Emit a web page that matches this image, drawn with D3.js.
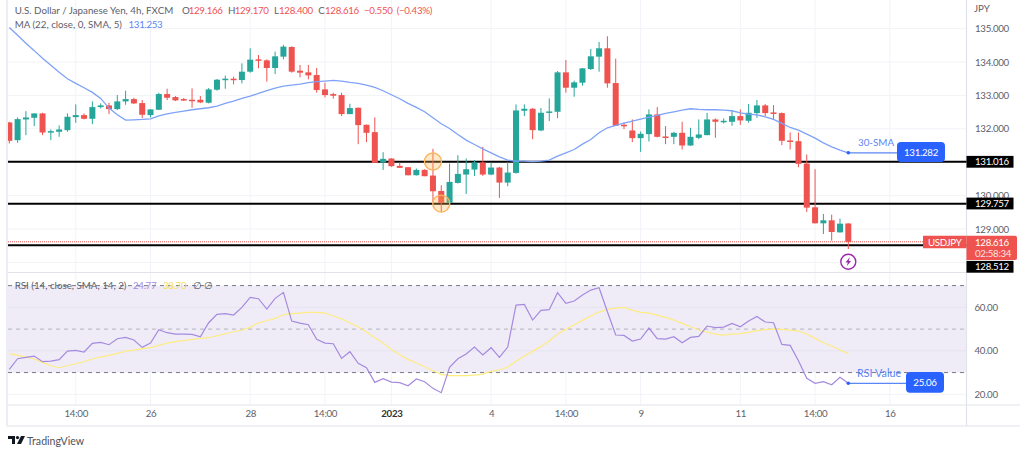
<!DOCTYPE html>
<html lang="en">
<head>
<meta charset="UTF-8">
<title>USD/JPY 4h</title>
<script src="https://d3js.org/d3.v7.min.js"></script>
<style>
    html, body { margin: 0; padding: 0; background: #fff; overflow: hidden; }
    svg text { font-family: Lato, Roboto, sans-serif; }
    .axis path, .axis line { display: none; }
</style>
</head>
<body>
<svg id="chart" width="1024" height="455"></svg>
<script>
// candles (4h bars)
const opens = [132.19,131.66,132.28,132.33,132.46,131.89,131.91,131.96,132.35,132.41,132.30,132.65,132.70,132.59,132.82,132.89,132.77,132.41,132.57,133.04,132.95,132.89,132.87,132.87,132.78,133.17,133.46,133.50,133.46,133.71,134.08,134.05,133.82,134.16,134.45,133.74,133.69,133.61,133.18,133.04,133.01,132.44,132.63,132.12,131.90,130.99,131.11,130.89,130.85,130.61,130.77,130.60,130.14,129.78,130.38,130.63,130.78,130.99,130.63,130.84,130.39,130.68,132.54,132.60,131.95,132.48,132.51,133.69,133.23,133.38,133.79,134.16,134.41,133.37,132.12,131.95,131.72,131.84,132.43,131.77,131.76,131.88,131.50,131.73,131.81,132.28,132.21,132.21,132.38,132.24,132.47,132.70,132.49,132.47,131.65,131.63,130.96,129.65,129.17,129.26,128.90,129.166];
const highs = [132.21,132.34,132.53,132.46,132.48,131.98,132.10,132.46,132.73,132.46,132.82,132.76,132.78,133.01,133.14,132.93,132.86,132.59,133.08,133.20,132.98,132.92,133.21,132.98,133.22,133.49,133.59,133.56,133.96,134.41,134.21,134.08,134.31,134.51,134.47,133.91,133.91,133.82,133.38,133.08,133.08,132.75,132.64,132.13,132.34,131.30,131.12,130.99,130.86,130.81,130.79,131.40,130.31,130.96,131.21,131.11,131.06,131.46,130.99,130.86,131.01,132.73,132.73,132.62,132.62,132.91,133.73,134.06,133.44,133.82,134.39,134.60,134.77,134.10,132.19,132.28,131.92,132.58,132.65,132.08,131.91,132.21,132.03,132.28,132.48,132.31,132.31,132.54,132.58,132.74,132.86,132.74,132.71,132.49,131.89,131.89,131.23,130.79,129.45,129.43,129.31,129.17];
const lows = [131.56,131.58,131.81,132.08,131.81,131.66,131.76,131.91,132.18,132.28,132.14,132.61,132.44,132.56,132.72,132.74,132.32,132.34,132.56,132.86,132.83,132.83,132.63,132.77,132.76,133.14,133.20,133.33,133.36,133.68,133.81,133.41,133.64,134.08,133.68,133.54,133.48,133.08,132.94,132.90,132.38,132.44,131.54,131.60,130.98,130.77,130.86,130.83,130.60,130.60,130.58,129.81,129.51,129.71,130.36,130.05,130.59,130.59,130.61,129.93,130.28,130.66,132.38,131.69,131.93,132.23,132.32,133.08,132.96,133.29,133.76,133.71,133.23,132.08,131.99,131.60,131.31,131.62,131.74,131.54,131.54,131.38,131.49,131.69,131.81,131.73,132.16,132.09,132.12,132.18,132.33,132.38,132.28,131.51,131.38,130.85,129.51,129.17,128.85,128.65,128.89,128.40];
const closes = [131.64,132.29,132.34,132.46,131.89,131.93,131.98,132.36,132.41,132.30,132.65,132.70,132.59,132.82,132.89,132.76,132.42,132.58,133.04,132.93,132.85,132.85,132.85,132.79,133.18,133.47,133.50,133.46,133.71,134.07,134.05,133.82,134.17,134.46,133.71,133.68,133.60,133.16,133.01,132.99,132.44,132.62,132.11,131.88,130.98,131.10,130.88,130.83,130.61,130.77,130.58,130.13,129.78,130.41,130.65,130.79,130.99,130.63,130.84,130.39,130.69,132.55,132.60,131.96,132.48,132.52,133.69,133.23,133.39,133.81,134.17,134.41,133.36,132.09,132.09,131.72,131.85,132.43,131.76,131.74,131.88,131.50,131.76,131.83,132.28,132.21,132.24,132.38,132.25,132.48,132.70,132.47,132.46,131.64,131.63,130.95,129.64,129.17,129.26,128.91,129.16,128.616];
const maValues = [135.03,134.80,134.56,134.34,134.11,133.90,133.69,133.50,133.36,133.23,133.09,132.91,132.62,132.42,132.26,132.27,132.28,132.30,132.39,132.45,132.49,132.53,132.57,132.60,132.63,132.68,132.76,132.83,132.91,132.98,133.06,133.14,133.22,133.28,133.31,133.34,133.38,133.41,133.43,133.45,133.43,133.39,133.36,133.31,133.24,133.14,133.02,132.90,132.76,132.64,132.51,132.33,132.15,132.01,131.83,131.66,131.53,131.40,131.28,131.16,131.06,131.03,131.03,131.02,131.03,131.06,131.18,131.28,131.38,131.54,131.68,131.88,132.03,132.10,132.17,132.23,132.29,132.35,132.40,132.46,132.51,132.56,132.60,132.58,132.57,132.57,132.56,132.54,132.48,132.44,132.42,132.36,132.28,132.16,132.04,131.96,131.84,131.72,131.58,131.46,131.36,131.282];
const rsiValues = [31.47,36.37,36.99,37.60,34.99,35.30,35.91,39.90,40.20,39.44,43.42,43.88,42.81,45.57,46.18,44.96,41.58,43.58,49.71,48.33,47.72,47.72,47.56,46.49,52.93,56.76,57.07,56.45,59.98,64.58,63.97,59.21,64.12,66.88,53.69,52.77,52.01,45.26,43.58,43.27,36.52,39.59,34.23,32.23,25.49,27.17,25.64,25.33,23.95,27.02,25.79,22.73,20.74,32.39,36.37,38.52,41.74,38.06,41.43,36.99,41.74,61.05,61.36,54.16,58.60,58.91,66.73,61.82,62.89,65.65,67.95,69.02,57.99,47.26,47.10,44.50,45.42,50.48,45.57,45.42,46.49,43.73,46.18,46.64,51.40,50.63,50.94,52.62,51.09,53.69,55.84,53.24,52.93,42.96,42.50,35.45,27.33,25.03,25.79,24.42,27.79,25.06];
const rsiSignal = [38.67,37.91,37.14,36.22,34.69,33.15,32.23,33.15,34.07,34.99,36.22,37.14,37.91,38.83,39.90,40.36,40.97,41.43,42.50,43.58,44.19,44.65,45.26,45.72,46.03,46.95,47.87,48.79,49.56,50.78,52.93,53.85,54.92,56.61,57.07,57.37,57.68,57.68,57.37,56.00,54.62,52.93,51.09,48.64,46.03,43.58,40.66,38.21,36.07,34.38,32.69,30.85,29.17,28.55,28.55,28.55,28.86,29.32,30.55,31.16,32.54,35.15,37.60,39.74,42.04,44.50,47.72,49.86,52.00,54.00,55.99,57.83,59.06,59.67,59.98,58.75,57.68,57.37,56.45,55.38,54.15,52.62,51.09,49.56,48.64,47.72,47.26,47.72,47.87,48.48,49.40,49.71,50.02,49.86,49.56,49.10,47.72,45.72,43.73,42.20,40.36,38.83];

// axis ticks
const priceTicks = [135, 134, 133, 132, 130, 129];
const priceGrid = [135, 134, 133, 132, 131, 130, 129, 128];
const rsiTicks = [60, 40, 20];
const timeTickIndex = [8, 17, 29, 38, 46, 58, 67, 76, 88, 97, 106];
const timeTickLabels = ["14:00", "26", "28", "14:00", "2023", "4", "14:00", "9", "11", "14:00", "16"];
// support / resistance lines drawn on the chart
const levels = [131.016, 129.757, 128.512];
const lastPrice = 128.616;
const markers = [{ i: 51, price: 131.02 }, { i: 52, price: 129.76 }];

const UP = "#26a69a", DOWN = "#ef5350", BLUE = "#2962ff", MA_BLUE = "#7fa2f8";
const GRID = "#f2f3f8", BORDER = "#e0e3eb", TEXT = "#5d606b";

const left = 8, right = 966.5;
const svg = d3.select("#chart");

const x = d3.scaleLinear().domain([0, 101]).range([9.3, 848.3]);
const y = d3.scaleLinear().domain([128, 135]).range([262.4, 28.6]);
const yRsi = d3.scaleLinear().domain([20, 70]).range([394.3, 285.6]);

// narrow digits, like the reference's number labels
const num = s => s.attr("font-size", 9.7).attr("letter-spacing", -0.3);

svg.append("defs").append("clipPath").attr("id", "plot")
    .append("rect").attr("x", left).attr("y", 0).attr("width", right - left).attr("height", 405);

// --- grid ---
const grid = svg.append("g").attr("stroke", GRID).attr("stroke-width", 1);
grid.selectAll(".v").data(timeTickIndex).join("line")
    .attr("x1", d => x(d)).attr("x2", d => x(d)).attr("y1", 0).attr("y2", 405);
grid.selectAll(".h").data(priceGrid).join("line")
    .attr("x1", left).attr("x2", right).attr("y1", d => y(d)).attr("y2", d => y(d));

// --- rsi band ---
svg.append("rect").attr("x", left).attr("width", right - left)
    .attr("y", yRsi(70)).attr("height", yRsi(30) - yRsi(70)).attr("fill", "#efecf8");
svg.append("g").selectAll("line").data(rsiTicks).join("line")
    .attr("x1", left).attr("x2", right).attr("y1", d => yRsi(d)).attr("y2", d => yRsi(d))
    .attr("stroke", d => d == 20 ? GRID : "#e6e3f0");
svg.append("g").selectAll("line").data([70, 50, 30]).join("line")
    .attr("x1", left).attr("x2", right).attr("y1", d => yRsi(d)).attr("y2", d => yRsi(d))
    .attr("stroke", d => d == 50 ? "#b4b4bc" : "#787b86")
    .attr("stroke-dasharray", "4 4");

// --- pane borders ---
const borders = svg.append("g").attr("stroke", BORDER).attr("stroke-width", 1.2);
borders.append("line").attr("x1", 7).attr("x2", 7).attr("y1", 0).attr("y2", 426);
borders.append("line").attr("x1", right).attr("x2", right).attr("y1", 0).attr("y2", 426);
borders.append("line").attr("x1", left).attr("x2", right).attr("y1", 272.5).attr("y2", 272.5);
borders.append("line").attr("x1", left).attr("x2", 1020).attr("y1", 405).attr("y2", 405);
borders.append("line").attr("x1", 7).attr("x2", 1020).attr("y1", 426).attr("y2", 426);

// --- horizontal levels, under the candles ---
const lastY = y(lastPrice);
svg.append("g").attr("stroke", "#000").attr("stroke-width", 2)
    .selectAll("line").data(levels).join("line")
    .attr("x1", left).attr("x2", right).attr("y1", d => y(d)).attr("y2", d => y(d));
svg.append("line").attr("x1", left).attr("x2", 923).attr("y1", lastY).attr("y2", lastY)
    .attr("stroke", DOWN).attr("stroke-dasharray", "1 1");

// --- candles ---
const candleData = d3.range(opens.length).map(i => ({
    i, o: opens[i], h: highs[i], l: lows[i], c: closes[i]
}));
const candles = svg.append("g").attr("clip-path", "url(#plot)")
    .selectAll("g").data(candleData).join("g")
    .attr("fill", d => d.c >= d.o ? UP : DOWN)
    .attr("stroke", d => d.c >= d.o ? UP : DOWN);
candles.append("line")
    .attr("x1", d => x(d.i)).attr("x2", d => x(d.i))
    .attr("y1", d => y(d.h)).attr("y2", d => y(d.l))
    .attr("stroke-width", 1);
candles.append("rect")
    .attr("x", d => x(d.i) - 3).attr("width", 6)
    .attr("y", d => y(Math.max(d.o, d.c)))
    .attr("height", d => Math.max(1.5, Math.abs(y(d.o) - y(d.c))))
    .attr("stroke", "none");

// --- ma ---
const maLine = d3.line().x((d, i) => x(i)).y(d => y(d));
svg.append("path").datum(maValues).attr("d", maLine)
    .attr("fill", "none").attr("stroke", MA_BLUE).attr("stroke-width", 1.3);

// --- orange markers ---
svg.append("g").selectAll("circle").data(markers).join("circle")
    .attr("cx", d => x(d.i)).attr("cy", d => y(d.price)).attr("r", 8.5)
    .attr("fill", "#ffb74d").attr("fill-opacity", 0.3)
    .attr("stroke", "#f9b45c").attr("stroke-width", 1.4);

// --- rsi lines ---
const rsiLine = d3.line().x((d, i) => x(i)).y(d => yRsi(d));
svg.append("path").datum(rsiSignal).attr("d", rsiLine)
    .attr("fill", "none").attr("stroke", "#ffeb80").attr("stroke-width", 1.2);
svg.append("path").datum(rsiValues).attr("d", rsiLine)
    .attr("fill", "none").attr("stroke", "#a58ade").attr("stroke-width", 1.2);

// --- axes ---
svg.append("g").attr("class", "axis").attr("transform", `translate(${right},0)`)
    .call(d3.axisRight(y).tickValues(priceTicks).tickFormat(d3.format(".3f")).tickSize(0).tickPadding(8.5))
    .call(num).attr("font-family", null).selectAll("text").attr("fill", TEXT);
svg.append("g").attr("class", "axis").attr("transform", `translate(${right},0)`)
    .call(d3.axisRight(yRsi).tickValues(rsiTicks).tickFormat(d3.format(".2f")).tickSize(0).tickPadding(8))
    .call(num).attr("font-family", null).selectAll("text").attr("fill", TEXT);
svg.append("g").attr("class", "axis").attr("transform", "translate(0,410)")
    .call(d3.axisBottom(x).tickValues(timeTickIndex)
        .tickFormat((d, i) => timeTickLabels[i]).tickSize(0).tickPadding(0))
    .call(num).attr("font-family", null).selectAll("text")
    .attr("fill", (d, i) => timeTickLabels[i] == "2023" ? "#333" : TEXT)
    .attr("font-weight", (d, i) => timeTickLabels[i] == "2023" ? 700 : 400);

svg.append("text").attr("x", 974).attr("y", 11.5).attr("font-size", 9.7).attr("fill", TEXT).text("JPY");

// --- price labels on the right ---
const tags = [
    { cy: 161.8, text: "131.016" },
    { cy: 203.5, text: "129.757" },
    { cy: 266.8, text: "128.512" }
];
const tagGroup = svg.append("g").selectAll("g").data(tags).join("g");
tagGroup.append("rect").attr("x", right).attr("y", d => d.cy - 5.9)
    .attr("width", 47).attr("height", 11.8).attr("fill", "#000");
tagGroup.append("text").attr("x", right + 8.5).attr("y", d => d.cy + 3.6)
    .call(num).attr("fill", "#fff").text(d => d.text);

svg.append("path")
    .attr("d", "M923 235.8H966.5V248.3H923Z").attr("fill", DOWN);
svg.append("text").attr("x", 944.7).attr("y", 245.8).attr("text-anchor", "middle")
    .call(num).attr("fill", "#fff").text("USDJPY");
svg.append("path")
    .attr("d", "M966.5 235.8H1015a2 2 0 0 1 2 2V258a2 2 0 0 1 -2 2H966.5Z").attr("fill", DOWN);
svg.append("text").attr("x", 975).attr("y", 246).call(num).attr("fill", "#fff").text("128.616");
svg.append("text").attr("x", 975).attr("y", 257).call(num).attr("fill", "#fde2e2").text("02:58:34");

// --- callouts ---
function callout(lastIndex, yPos, label, labelX, labelSize, boxX, boxW, boxY, boxH, value) {
    const cx = x(lastIndex);
    svg.append("line").attr("x1", cx).attr("x2", boxX + 1).attr("y1", yPos).attr("y2", yPos)
        .attr("stroke", "#5b86f5").attr("stroke-width", 1.2);
    svg.append("circle").attr("cx", cx).attr("cy", yPos).attr("r", 1.8).attr("fill", BLUE);
    svg.append("text").attr("x", labelX).attr("y", yPos - 6.5)
        .attr("font-size", labelSize).attr("fill", "#5b86f5").text(label);
    svg.append("rect").attr("x", boxX).attr("y", boxY).attr("width", boxW).attr("height", boxH)
        .attr("rx", 4).attr("fill", BLUE);
    svg.append("text").attr("x", boxX + boxW / 2).attr("y", boxY + boxH / 2 + 3.6)
        .attr("text-anchor", "middle").call(num).attr("fill", "#fff").text(value);
}
callout(101, y(131.282), "30-SMA", 858, 9.8, 897, 48, 142, 20, "131.282");
callout(101, yRsi(25.06), "RSI Value", 857, 10.8, 906, 38, 372, 20.7, "25.06");

// --- flash icon under the last bar ---
const flash = svg.append("g").attr("transform", `translate(${x(101)},261.7)`);
flash.append("circle").attr("r", 7.5).attr("fill", "#fff").attr("stroke", "#9c27b0").attr("stroke-width", 1.4);
flash.append("path").attr("d", "M1.6 -4.6L-2.8 0.8H-0.4L-1.6 4.6L2.8 -0.8H0.4Z").attr("fill", "#9c27b0");

// --- legend: [x, text, colour, isNumber] ---
function legend(yPos, parts) {
    const t = svg.append("g");
    parts.forEach(p => {
        const el = t.append("text").attr("x", p[0]).attr("y", yPos)
            .attr("font-size", 9.75).attr("fill", p[2] || TEXT).text(p[1]);
        if (p[3]) el.call(num);
    });
}
legend(13.5, [
    [14.7, "U.S. Dollar / Japanese Yen, 4h, FXCM"],
    [182, "O"], [188.7, "129.166", DOWN, true],
    [228, "H"], [234.7, "129.170", DOWN, true],
    [274, "L"], [279, "128.400", DOWN, true],
    [318.3, "C"], [325, "128.616", DOWN, true],
    [364, "\u22120.550", DOWN, true], [396.7, "(\u22120.43%)", DOWN, true]
]);
legend(27.5, [
    [14.7, "MA (22, close, 0, SMA, 5)"],
    [128.5, "131.253", "#5b86f5", true]
]);
legend(288.5, [
    [14.7, "RSI (14, close, SMA, 14, 2)"],
    [133, "24.77", "#a58ade", true],
    [163, "38.70", "#f5dc5a", true],
    [192.5, "\u2205"], [203.5, "\u2205"]
]);

// --- logo ---
const logo = svg.append("g").attr("transform", "translate(8,436)").attr("fill", "#131722");
logo.append("path").attr("d", "M0 0H7V8H4V3H0Z");
logo.append("circle").attr("cx", 9.5).attr("cy", 1.6).attr("r", 1.6);
logo.append("path").attr("d", "M13 0H17L13 8H9Z");
svg.append("text").attr("x", 27).attr("y", 445).attr("font-size", 10.6).attr("fill", "#50535e").text("TradingView");
</script>
</body>
</html>
